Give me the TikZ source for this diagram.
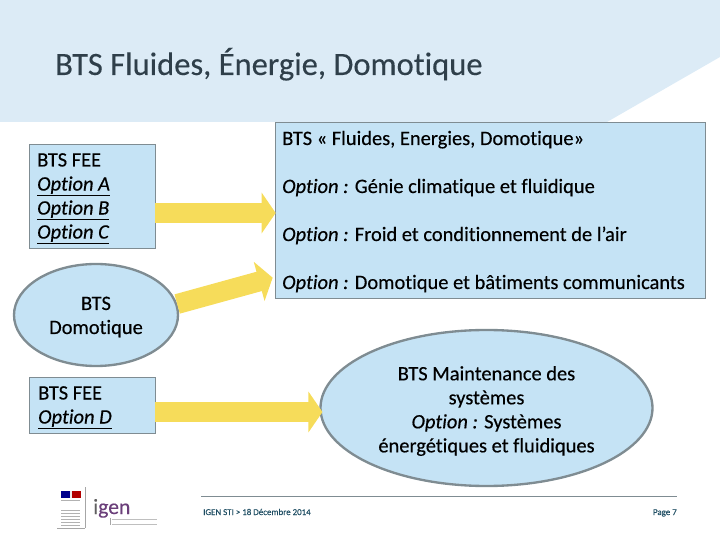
\documentclass[tikz,border=0pt]{standalone}
\usepackage{fontspec}
\setmainfont{Carlito}[FakeBold=0.35,RawFeature={-liga}]
\newfontfamily\titlefont{Carlito}[FakeBold=0.2,RawFeature={-liga}]
\usepackage{tikz}
\usetikzlibrary{arrows.meta,shapes.geometric,calc}
\definecolor{headblue}{HTML}{DCEBF6}
\definecolor{boxblue}{HTML}{C5E3F5}
\definecolor{edgegray}{HTML}{7F8C92}
\definecolor{arrowyellow}{HTML}{F6DC5A}
\definecolor{titlegray}{HTML}{2F3F4A}
\definecolor{footteal}{HTML}{1F4E63}
\definecolor{purplegen}{HTML}{6B3F7A}
\newcommand{\opt}[1]{\underline{\textit{#1}}}

\begin{document}
\begin{tikzpicture}[x=0.03cm,y=-0.03cm,>=Stealth,font=\fontsize{17.45}{20.5}\selectfont]
\tikzstyle{b}=[draw=edgegray,line width=0.8pt,fill=boxblue,inner sep=0pt]
\tikzstyle{e}=[b,ellipse,line width=2pt]
\tikzstyle{t}=[anchor=base west,inner sep=0pt]
\tikzstyle{l}=[anchor=north west,inner sep=0pt,align=left]
\tikzstyle{c}=[inner sep=0pt,align=center]
\tikzstyle{a}=[line width=0.6cm,draw=arrowyellow,-{Triangle[length=0.42cm,width=1.2cm,fill=arrowyellow]},shorten >=-1pt]
\useasboundingbox (0,0) rectangle (720,540);
% header band
\fill[headblue] (0,0) -- (720,0) -- (720,57) -- (607,122) -- (0,122) -- cycle;
\node[t,font=\titlefont\fontsize{27.8}{32}\selectfont,text=titlegray] (title) at (55,75) {BTS Fluides, Énergie, Domotique};
% left column
\node[b,minimum width=3.78cm,minimum height=3.12cm] (fee) at (92,196) {};
\node[l] (feetxt) at (37,153) {BTS FEE\\\opt{Option A}\\\opt{Option B}\\\opt{Option C}};
\node[e,minimum width=4.92cm,minimum height=3.06cm] (domo) at (96,315) {};
\node[c] (domotxt) at (96,317) {BTS\\Domotique};
\node[b,minimum width=3.78cm,minimum height=1.68cm] (feed) at (92,405) {};
\node[l] (feedtxt) at (38,386) {BTS FEE\\\opt{Option D}};
% right column
\node[b,minimum width=12.9cm,minimum height=5.28cm] (fed) at (490,210) {};
\node[t] (fedtitle) at (282,145) {BTS « Fluides, Energies, Domotique»};
\node[t] (opta) at (282,193) {\textit{Option :} Génie climatique et fluidique};
\node[t] (optb) at (282,241) {\textit{Option :} Froid et conditionnement de l’air};
\node[t] (optc) at (282,289) {\textit{Option :} Domotique et bâtiments communicants};
\node[e,minimum width=9.96cm,minimum height=4.68cm] (maint) at (486.5,408) {};
\node[c] (mainttxt) at (486.5,411) {BTS Maintenance des\\systèmes\\\textit{Option :} Systèmes\\énergétiques et fluidiques};
% arrows
\draw[a] ($(fee.east)+(0,17)$) -- ($(fed.west)+(0,3)$);
\draw[a] ($(domo.east)+(-2,-11)$) -- ($(fed.west)+(-3,68)$);
\draw[a] ($(feed.east)+(0,7)$) -- ($(maint.west)+(2,4)$);
% footer
\coordinate (footl) at (201,496);
\coordinate (footr) at (677,496);
\draw[edgegray,line width=0.8pt] (footl) -- (footr);
\node[t,font=\fontsize{7.6}{9}\selectfont,text=footteal] (footdate) at (203,515) {IGEN STI > 18 Décembre 2014};
\node[anchor=base east,inner sep=0pt,font=\fontsize{7.6}{9}\selectfont,text=footteal] (footpage) at (677,515) {Page 7};
% logos
\fill[blue!55!black] (61,491) rectangle (70,498);
\fill[gray!15] (70,491) rectangle (72,498);
\fill[red!70!black] (72,491) rectangle (81,498);
\draw[gray!70,line width=0.5pt] (85,487) -- (85,528);
\draw[gray!70,line width=0.5pt] (57,528) -- (85,528);
\foreach \y in {500,510,513,516,519,522,525} \draw[gray!60,line width=0.5pt] (61,\y) -- (80,\y);
\node[t,font=\titlefont\fontsize{18.5}{20}\selectfont,text=gray!75!black] (logo) at (93,514) {i\textcolor{purplegen}{gen}};
\draw[gray!70,line width=0.5pt] (110,518) -- (110,525);
\foreach \y in {519.5,524} \draw[gray!50,line width=0.7pt] (112,\y) -- (157,\y);
\end{tikzpicture}
\end{document}
